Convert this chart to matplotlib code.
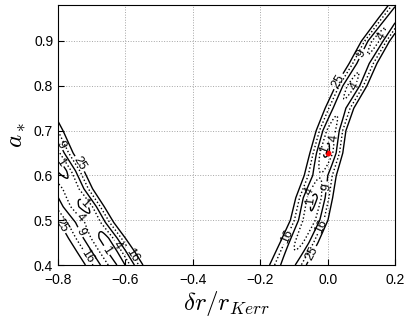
import numpy as np
import matplotlib
matplotlib.use("Agg")
import matplotlib.pyplot as plt

plt.rcParams['font.family'] = ['Liberation Sans', 'DejaVu Sans']
plt.rcParams['mathtext.fontset'] = 'cm'

# chi^2 contour levels and their line styles
levels = [1, 4, 9, 16, 25]
level_styles = ['-', ':', '-', ':', '-']

# right valley: centre x, half-scale in x, floor value vs a_*
right_a = [0.36, 0.40, 0.45, 0.50, 0.55, 0.60, 0.65, 0.70, 0.75, 0.80, 0.85, 0.90, 0.95, 1.00]
right_centre = [-0.14, -0.118, -0.085, -0.055, -0.04, -0.022, -0.004, 0.01, 0.035, 0.07, 0.105, 0.142, 0.19, 0.24]
right_width = [0.0125, 0.0125, 0.012, 0.0115, 0.011, 0.0105, 0.0098, 0.0092, 0.0095, 0.0098, 0.0092, 0.0088, 0.009, 0.009]
right_floor = [8, 6, 3, 1.5, 0.3, 4.5, 0.2, 2.0, 5.0, 2.5, 5.0, 2.5, 5.0, 6.0]

# left valley
left_a = [0.36, 0.40, 0.43, 0.46, 0.495, 0.53, 0.57, 0.61, 0.65, 0.70, 0.75]
left_centre = [-0.58, -0.61, -0.635, -0.66, -0.69, -0.72, -0.755, -0.785, -0.82, -0.86, -0.9]
left_w_up = [0.012, 0.0125, 0.0125, 0.012, 0.0115, 0.0115, 0.012, 0.0125, 0.013, 0.015, 0.016]
left_w_lo = [0.022, 0.022, 0.022, 0.022, 0.022, 0.022, 0.022, 0.022, 0.022, 0.022, 0.022]
left_floor = [0.5, 0.5, 0.3, 0.3, 2.0, 0.3, 2.0, 0.3, 0.3, 0.3, 0.5]

best_fit = (0.0, 0.65)

x = np.linspace(-0.8, 0.2, 500)
y = np.linspace(0.4, 0.98, 400)
X, Y = np.meshgrid(x, y)

c = np.interp(Y, right_a, right_centre)
w = np.interp(Y, right_a, right_width)
f = np.interp(Y, right_a, right_floor)
chi_r = f + ((X - c) / w) ** 2

c = np.interp(Y, left_a, left_centre)
wu = np.interp(Y, left_a, left_w_up)
wl = np.interp(Y, left_a, left_w_lo)
f = np.interp(Y, left_a, left_floor)
d = X - c
chi_l = f + (d / np.where(d > 0, wu, wl)) ** 2

chi = np.minimum(chi_r, chi_l)

fig = plt.figure(figsize=(4.09, 3.22), dpi=100)
ax = fig.add_axes([0.142, 0.177, 0.824, 0.807])

cs = ax.contour(X, Y, chi, levels=levels, colors='k', linewidths=1.0,
                linestyles=level_styles)
ax.clabel(cs, fmt='%d', fontsize=9, inline=True, inline_spacing=2)

ax.plot(best_fit[0], best_fit[1], 'o', color='red', markersize=3.2)

ax.set_xlim(-0.8, 0.2)
ax.set_ylim(0.4, 0.98)
ax.set_xticks([-0.8, -0.6, -0.4, -0.2, 0.0, 0.2])
ax.set_yticks([0.4, 0.5, 0.6, 0.7, 0.8, 0.9])
ax.tick_params(direction='in', labelsize=10, length=4)
ax.tick_params(axis='x', pad=6)
ax.grid(True, linestyle=':', color='0.65', linewidth=0.7)

ax.set_xlabel(r'$\delta r/r_{Kerr}$', fontsize=18, labelpad=1)
ax.set_ylabel(r'$a_*$', fontsize=18, labelpad=4)

fig.savefig('out.png', dpi=100)
